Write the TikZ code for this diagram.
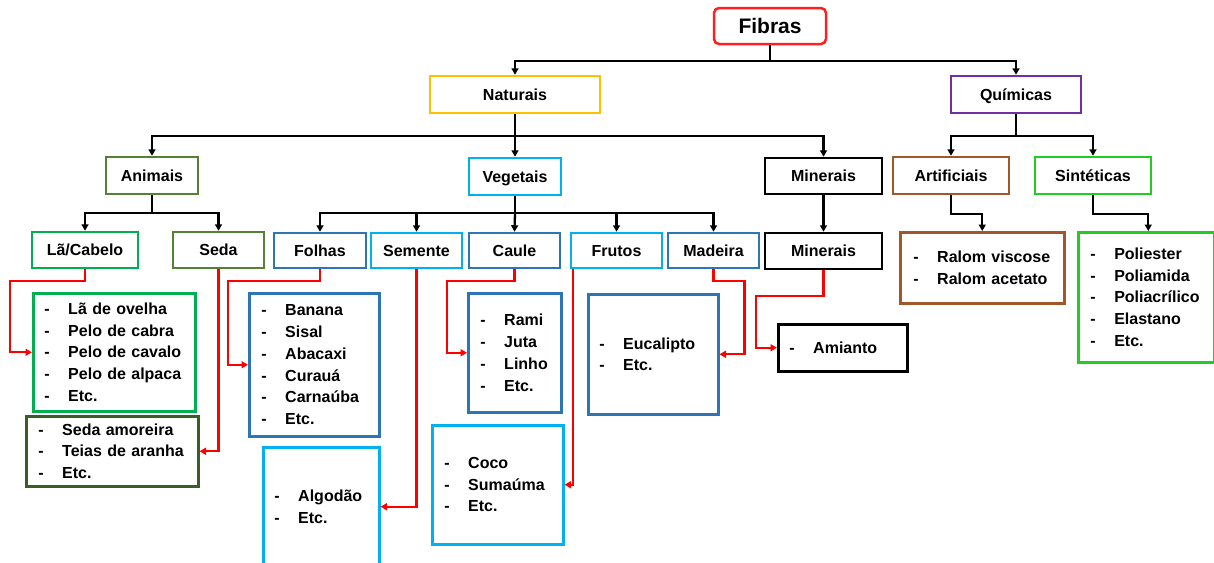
\documentclass[tikz,border=0pt]{standalone}
\usepackage{fontspec}
\setmainfont{Liberation Sans}
\usetikzlibrary{arrows.meta}
\definecolor{cFib}{HTML}{FF1F1F}
\definecolor{cGold}{HTML}{FFC000}
\definecolor{cPurp}{HTML}{7030A0}
\definecolor{cOlive}{HTML}{548235}
\definecolor{cDkOlive}{HTML}{3B5E29}
\definecolor{cCyan}{HTML}{00B0F0}
\definecolor{cGreen}{HTML}{00B050}
\definecolor{cBlue}{HTML}{2E75B6}
\definecolor{cBrown}{HTML}{A0582A}
\definecolor{cSint}{HTML}{22CC22}
\definecolor{cRed}{HTML}{FF0000}
\newcommand\litem[1]{\makebox[24pt][l]{-}#1}
\tikzset{
  lbl/.style={draw, line width=2.5pt, fill=white, inner sep=0pt,
    text height=11.5pt, text depth=0pt,
    font=\fontsize{16}{18}\selectfont\bfseries},
  listbox/.style={draw, line width=2.5pt, fill=white, anchor=north west, align=left,
    font=\fontsize{16}{21.7}\selectfont\bfseries, inner ysep=0pt},
  blk/.style={line width=2.3pt, black},
  blkarr/.style={line width=2.3pt, black, -{Triangle[length=6.5pt,width=7pt]}},
  redarr/.style={line width=2.3pt, cRed, -{Triangle[length=6.5pt,width=7pt]}},
}
\begin{document}
\begin{tikzpicture}[x=1pt,y=-1pt]
\useasboundingbox (0,0) rectangle (1214,562);
% level 0-1
\node[lbl, draw=cFib, rounded corners=5pt, minimum width=112pt, minimum height=36pt,
  text height=15pt, text depth=0pt,
  font=\fontsize{21}{22}\selectfont\bfseries] (fibras) at (770,26) {Fibras};
\node[lbl, draw=cGold, minimum width=170pt, minimum height=37pt] (naturais) at (515,94.5) {Naturais};
\node[lbl, draw=cPurp, minimum width=130pt, minimum height=37pt] (quimicas) at (1016,94.5) {Químicas};
% level 2
\node[lbl, draw=cOlive, minimum width=92pt, minimum height=37pt] (animais) at (152,175.5) {Animais};
\node[lbl, draw=cCyan, minimum width=92pt, minimum height=37pt] (vegetais) at (515,176.5) {Vegetais};
\node[lbl, draw=black, minimum width=117pt, minimum height=36pt] (minerais) at (823.5,176) {Minerais};
\node[lbl, draw=cBrown, minimum width=116pt, minimum height=37pt] (artificiais) at (951,175.5) {Artificiais};
\node[lbl, draw=cSint, minimum width=116pt, minimum height=37pt] (sinteticas) at (1093,175.5) {Sintéticas};
% level 3
\node[lbl, draw=cGreen, minimum width=106pt, minimum height=36pt] (lacab) at (85,250) {Lã/Cabelo};
\node[lbl, draw=cOlive, minimum width=91pt, minimum height=36pt] (seda) at (218.5,250) {Seda};
\node[lbl, draw=cBlue, minimum width=92pt, minimum height=35pt] (folhas) at (320,250.5) {Folhas};
\node[lbl, draw=cCyan, minimum width=91pt, minimum height=35pt] (semente) at (416.5,250.5) {Semente};
\node[lbl, draw=cBlue, minimum width=91pt, minimum height=35pt] (caule) at (514.5,250.5) {Caule};
\node[lbl, draw=cCyan, minimum width=91pt, minimum height=35pt] (frutos) at (616.5,250.5) {Frutos};
\node[lbl, draw=cBlue, minimum width=91pt, minimum height=35pt] (madeira) at (713.5,250.5) {Madeira};
\node[lbl, draw=black, minimum width=117pt, minimum height=36pt] (minerais2) at (823.5,251) {Minerais};
% lists
\node[listbox, draw=cGreen, minimum width=162pt, minimum height=118pt, inner xsep=11pt, text width=140pt] (lalist) at (32,292)
  {\litem{Lã de ovelha}\\\litem{Pelo de cabra}\\\litem{Pelo de cavalo}\\\litem{Pelo de alpaca}\\\litem{Etc.}};
\node[listbox, draw=cDkOlive, minimum width=172pt, minimum height=70pt, inner xsep=12pt, text width=148pt] (sedalist) at (25,415)
  {\litem{Seda amoreira}\\\litem{Teias de aranha}\\\litem{Etc.}};
\node[listbox, draw=cBlue, minimum width=130pt, minimum height=143pt, inner xsep=12pt, text width=106pt] (folist) at (248,292)
  {\litem{Banana}\\\litem{Sisal}\\\litem{Abacaxi}\\\litem{Curauá}\\\litem{Carnaúba}\\\litem{Etc.}};
\node[listbox, draw=cCyan, minimum width=116pt, minimum height=119pt, inner xsep=11pt, text width=94pt] (semlist) at (262,446)
  {\litem{Algodão}\\\litem{Etc.}};
\node[listbox, draw=cBlue, minimum width=93pt, minimum height=119pt, inner xsep=12pt, text width=69pt] (caulist) at (467,292)
  {\litem{Rami}\\\litem{Juta}\\\litem{Linho}\\\litem{Etc.}};
\node[listbox, draw=cCyan, minimum width=131pt, minimum height=119pt, inner xsep=12pt, text width=107pt] (frulist) at (431,424)
  {\litem{Coco}\\\litem{Sumaúma}\\\litem{Etc.}};
\node[listbox, draw=cBlue, minimum width=130pt, minimum height=120pt, inner xsep=11pt, text width=108pt] (madlist) at (587,293)
  {\litem{Eucalipto}\\\litem{Etc.}};
\node[listbox, draw=black, minimum width=129pt, minimum height=47pt, inner xsep=11pt, text width=107pt] (amianto) at (777,323)
  {\litem{Amianto}};
\node[listbox, draw=cBrown, minimum width=164pt, minimum height=71pt, inner xsep=13pt, text width=138pt] (ralom) at (899,231)
  {\litem{Ralom viscose}\\\litem{Ralom acetato}};
\node[listbox, draw=cSint, minimum width=136pt, minimum height=130pt, inner xsep=12pt, text width=112pt] (sintlist) at (1077,231)
  {\litem{Poliester}\\\litem{Poliamida}\\\litem{Poliacrílico}\\\litem{Elastano}\\\litem{Etc.}};
% black connectors
\draw[blk] (fibras.south) -- ++(0,16) coordinate (jf);
\draw[blkarr] (jf) -| (naturais.north);
\draw[blkarr] (jf) -| (quimicas.north);
\draw[blk] (naturais.south) -- ++(0,22) coordinate (jn);
\draw[blkarr] (jn) -| (animais.north);
\draw[blkarr] (jn) -- (vegetais.north);
\draw[blkarr] (jn) -| (minerais.north);
\draw[blk] (quimicas.south) -- ++(0,22) coordinate (jq);
\draw[blkarr] (jq) -| (artificiais.north);
\draw[blkarr] (jq) -| (sinteticas.north);
\draw[blk] (animais.south) -- ++(0,18) coordinate (ja);
\draw[blkarr] (ja) -| (lacab.north);
\draw[blkarr] (ja) -| (seda.north);
\draw[blk] (vegetais.south) -- ++(0,17) coordinate (jv);
\draw[blkarr] (jv) -| (folhas.north);
\draw[blkarr] (jv) -| (semente.north);
\draw[blkarr] (jv) -- (caule.north);
\draw[blkarr] (jv) -| (frutos.north);
\draw[blkarr] (jv) -| (madeira.north);
\draw[blkarr] (minerais.south) -- (minerais2.north);
\draw[blkarr] (artificiais.south) -- ++(0,19) -| (ralom.north);
\draw[blkarr] (sinteticas.south) -- ++(0,19) -| ([xshift=2pt]sintlist.north);
% red connectors
\draw[redarr] (lacab.south) -- ++(0,12) -| ([xshift=-22pt]lalist.west) -- (lalist.west);
\draw[redarr] (seda.south) |- (sedalist.east);
\draw[redarr] (folhas.south) -- ++(0,12) -| ([xshift=-20pt]folist.west) -- (folist.west);
\draw[redarr] (semente.south) |- (semlist.east);
\draw[redarr] (caule.south) -- ++(0,12) -| ([xshift=-20pt]caulist.west) -- (caulist.west);
\draw[redarr] ([xshift=3pt]frutos.south west) |- (frulist.east);
\draw[redarr] (madeira.south) -- ++(0,12) -| ([xshift=25pt]madlist.east) -- (madlist.east);
\draw[redarr] (minerais2.south) -- ++(0,26) -| ([xshift=-21pt]amianto.west) -- (amianto.west);
\end{tikzpicture}
\end{document}
